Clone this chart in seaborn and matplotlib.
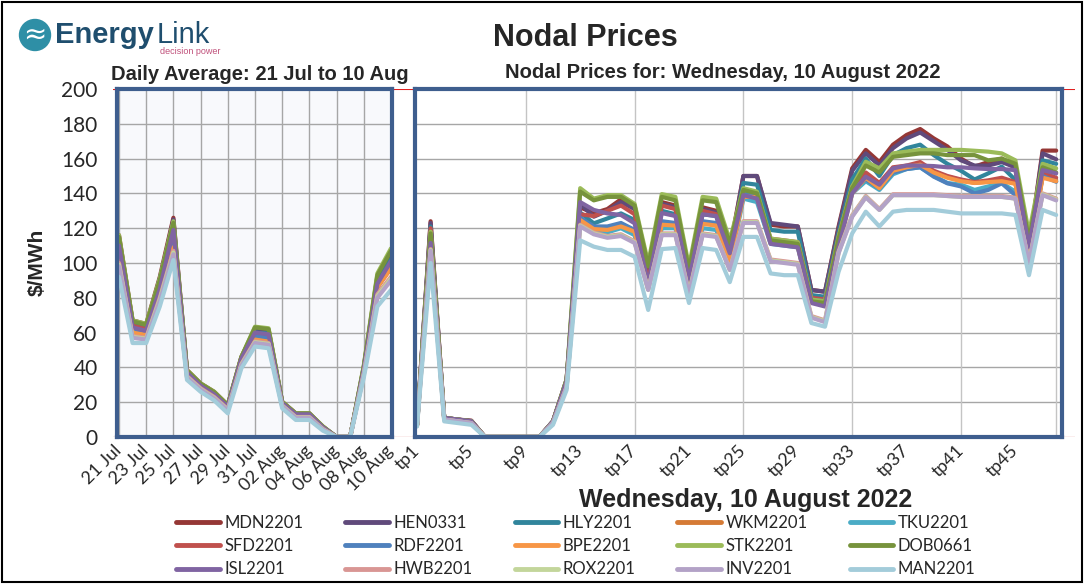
import matplotlib.pyplot as plt
import matplotlib.patches as mpatches
from matplotlib.lines import Line2D
import seaborn as sns
import pandas as pd

# ---- categories ----
days = ['21 Jul', '22 Jul', '23 Jul', '24 Jul', '25 Jul', '26 Jul', '27 Jul',
        '28 Jul', '29 Jul', '30 Jul', '31 Jul', '01 Aug', '02 Aug', '03 Aug',
        '04 Aug', '05 Aug', '06 Aug', '07 Aug', '08 Aug', '09 Aug', '10 Aug']
tps = ['tp%d' % n for n in range(1, 49)]

nodes = ['MDN2201', 'HEN0331', 'HLY2201', 'WKM2201', 'TKU2201',
         'SFD2201', 'RDF2201', 'BPE2201', 'STK2201', 'DOB0661',
         'ISL2201', 'HWB2201', 'ROX2201', 'INV2201', 'MAN2201']
colors = ['#953735', '#604A7B', '#31859C', '#D57A35', '#4BACC6',
          '#C0504D', '#4F81BD', '#F79646', '#9BBB59', '#77933C',
          '#8064A2', '#D99694', '#C3D69B', '#B3A2C7', '#A3CCDA']

# ---- daily averages, 21 Jul .. 10 Aug ($/MWh) ----
MDN_daily = [116, 67, 65, 92, 126, 38.5, 30.8, 26, 18.4, 46, 62, 61.5, 20.3, 13.6, 13.6, 6, 0, 0, 40, 92, 106]
HEN_daily = [114, 66, 64, 90, 125, 38, 30.5, 25.5, 18, 45.5, 61.5, 61, 20, 13.4, 13.4, 5.8, 0, 0, 39.5, 90, 104]
HLY_daily = [112, 65, 63, 91, 122, 37.5, 30, 25, 17.8, 45, 60, 59.5, 19.6, 13, 13, 5.6, 0, 0, 39, 89, 102]
WKM_daily = [106, 61, 59, 86, 112, 36.5, 29, 24, 17, 44, 57, 55.5, 19, 12.5, 12.5, 5.2, 0, 0, 38, 86, 97]
TKU_daily = [106, 61.5, 60, 87, 114, 36.5, 29, 24, 17, 44, 57.5, 56, 19, 12.5, 12.5, 5.2, 0, 0, 38, 86, 98]
SFD_daily = [110, 64, 62, 89, 120, 37, 29.5, 24.5, 17.5, 45, 59, 58, 19.4, 12.8, 12.8, 5.4, 0, 0, 38.5, 88, 100]
RDF_daily = [107, 62, 60.5, 88, 116, 36.8, 29.2, 24.2, 17.2, 44.5, 58, 57, 19.2, 12.6, 12.6, 5.3, 0, 0, 38, 87, 99]
BPE_daily = [105, 60, 58.6, 86, 109, 36, 28.5, 23.5, 16.6, 43.5, 56, 54.8, 18.8, 12.2, 12.2, 5, 0, 0, 37.5, 86, 97]
STK_daily = [116, 67, 65, 91, 124, 38.5, 30.8, 26, 18.4, 46, 63.4, 62.5, 20.3, 13.6, 13.6, 6, 0, 0, 41, 94, 108.4]
DOB_daily = [115, 66.5, 64.5, 90, 123, 38.2, 30.6, 25.8, 18.2, 46, 63, 62, 20.1, 13.5, 13.5, 5.9, 0, 0, 40.5, 93, 107]
ISL_daily = [110, 63, 61, 85, 119, 37, 29.5, 24.5, 17.5, 45, 60, 59, 19.5, 13, 13, 5.5, 0, 0, 39, 88, 101]
HWB_daily = [100, 58, 57, 80, 107, 35, 28, 23, 16, 42, 55, 54, 18.2, 11.5, 11.5, 4.6, 0, 0, 36.5, 82, 92]
ROX_daily = [99, 57.5, 56.5, 79, 106, 34.5, 27.5, 22.5, 15.6, 41.5, 54.5, 53.5, 18, 11.2, 11.2, 4.4, 0, 0, 36, 81, 91]
INV_daily = [98, 57, 56, 78, 105, 34.2, 27.2, 22.2, 15.3, 41, 54, 53, 17.7, 11, 11, 4.2, 0, 0, 35.5, 80, 90]
MAN_daily = [92, 54, 54, 75, 101.7, 32.8, 26, 21, 13.6, 39.5, 52, 51, 16.5, 9.8, 9.8, 3.6, 0, 0, 34, 75, 84.5]

# ---- trading period prices, Wednesday 10 August 2022 ($/MWh) ----
MDN_tp = [7, 124, 11, 10, 9.4, 0, 0, 0, 0, 0, 9, 33,
          132, 128.6, 131, 136.6, 133, 92, 135, 133, 95, 132, 130, 108,
          150, 150, 122, 121, 121, 84.5, 83.5, 121, 154.4, 165, 158, 168,
          173.6, 177, 171.6, 167, 160, 155.4, 158, 160, 154.4, 108.4, 164.6, 164.6]
HEN_tp = [7, 123, 11, 10, 9.2, 0, 0, 0, 0, 0, 9, 33,
          134, 126.6, 130, 135, 131, 90, 134, 132, 93, 131, 129, 106,
          150, 150, 123, 122, 121, 84.5, 83.5, 120, 153, 163, 156, 166,
          171.6, 175, 170, 165, 159, 156, 156, 158, 155, 108, 163, 159.6]
HLY_tp = [7, 121, 11, 10, 9, 0, 0, 0, 0, 0, 9, 32,
          129, 122.8, 125.6, 128.5, 124.7, 88, 130, 128, 92, 128, 127, 104,
          146, 145, 119, 118, 118, 81.6, 80.6, 117, 148, 160, 150, 162,
          166, 168, 162, 157, 153, 148, 151.5, 155.4, 147.7, 106, 159, 157]
WKM_tp = [7, 114, 11, 9.5, 8.5, 0, 0, 0, 0, 0, 8.5, 31,
          125, 120, 119, 121, 118, 86, 122, 122, 90, 123, 122, 101,
          139, 139, 112, 111, 110, 78, 77, 112, 141, 150, 144, 153.4,
          155, 157, 152.5, 149.6, 147.7, 146, 146.7, 147.7, 146, 105.6, 149.6, 147.7]
TKU_tp = [7, 115, 11, 9.5, 8.5, 0, 0, 0, 0, 0, 8.5, 31,
          124, 118, 117.6, 120, 116, 85, 120, 120, 88, 120, 119, 99,
          137, 135, 111, 110, 109, 78, 77, 111, 140, 147, 142, 151,
          154, 155, 150, 146, 145, 142, 144, 146, 141, 104, 151, 147]
SFD_tp = [7, 120, 11, 10, 9, 0, 0, 0, 0, 0, 9, 32,
          128, 127, 130, 133, 128, 89, 133, 131, 93, 130, 128, 105,
          141, 139, 114, 113, 112, 80, 79, 115, 144, 152, 146, 155,
          156, 158, 153, 150, 148, 146.5, 147.5, 149, 146.5, 106, 152, 149]
RDF_tp = [7, 116, 11, 9.5, 8.5, 0, 0, 0, 0, 0, 8.5, 31,
          126, 121, 121, 123, 119, 86.5, 124, 123, 90, 124, 123, 102,
          140, 139, 113, 112, 111, 79, 78, 113, 142, 148, 143, 152,
          154, 155, 149.6, 145.8, 144, 140, 142, 145.8, 139, 105, 150, 146.7]
BPE_tp = [7, 113, 11, 9.5, 8.5, 0, 0, 0, 0, 0, 8.5, 31,
          124.7, 119.5, 119, 121, 118, 86, 122, 121.5, 89, 122.5, 121.5, 101,
          138, 138, 111.5, 110.5, 109.5, 77.5, 76.5, 111, 140, 149, 143, 153,
          155, 156.5, 152, 149, 147, 146, 146.5, 147, 145.5, 105, 149, 147]
STK_tp = [7, 118, 11, 10, 9, 0, 0, 0, 0, 0, 9, 33,
          143, 137, 139, 139, 134, 100, 139.6, 138, 98, 138, 137, 113,
          143, 141, 114, 113, 112, 79, 78, 115, 144, 158.2, 154.4, 163,
          164, 165, 165, 165, 165, 164.5, 164, 163, 159, 117, 157, 154.4]
DOB_tp = [7, 117, 11, 10, 9, 0, 0, 0, 0, 0, 9, 32.5,
          141, 136, 138, 138, 133, 98, 138, 136, 96, 136, 135, 111,
          142, 140, 113, 112, 111, 78, 77, 114, 143, 156, 152, 161,
          162, 163, 163, 162, 162, 162, 159, 160, 157, 113, 155, 152]
ISL_tp = [7, 111.5, 11, 10, 9, 0, 0, 0, 0, 0, 9, 32,
          135, 130.5, 128.5, 127.6, 122.8, 88, 128.7, 127, 90, 128, 127, 105.6,
          139, 137, 111, 110, 109, 77, 75, 109, 140, 149.6, 145, 154.4,
          156, 156, 155.7, 155, 155, 154.4, 154, 154, 153.4, 109, 153.4, 151.5]
HWB_tp = [6.5, 108, 10, 9, 8, 0, 0, 0, 0, 0, 8, 29,
          122, 117.5, 115.5, 116.5, 112.5, 85, 117, 117, 83, 117, 116, 96.5,
          124, 124, 102, 101, 100, 69.5, 67, 106.5, 127.5, 138.5, 131, 139.5,
          139.5, 139.5, 139.5, 139, 138.5, 138.5, 138.5, 138.5, 137.5, 100.5, 140, 137]
ROX_tp = [6.5, 107.5, 10, 9, 8, 0, 0, 0, 0, 0, 8, 28.5,
          121.5, 117, 115, 116, 112, 84.5, 116.5, 116.5, 82.5, 116.5, 115.5, 96,
          123.5, 123.5, 101.5, 100.5, 99.5, 69, 66.5, 106, 127, 138, 130.5, 139,
          139, 139, 139, 138.5, 138, 138, 138, 138, 137, 100, 139.5, 136.5]
INV_tp = [6.5, 107, 10, 9, 8, 0, 0, 0, 0, 0, 8, 28.5,
          121, 116.5, 114.5, 115.5, 111.5, 84.5, 116, 116, 82, 116, 115, 96,
          123, 123, 101, 100, 99, 68.6, 66, 105.6, 126.6, 137.7, 130.5, 139,
          139, 139, 139, 138.5, 138, 138, 138, 138, 137, 100, 139, 136]
MAN_tp = [6, 100, 9, 8, 7, 0, 0, 0, 0, 0, 7, 27,
          113, 109.4, 107.5, 107.5, 103.6, 73, 108, 108.6, 77, 108.6, 107.5, 89,
          115, 115, 94, 93, 93, 65.5, 63.4, 95, 117, 129.5, 121, 129.5,
          130.5, 130.5, 130.5, 129.5, 128.5, 128.5, 128.5, 128.5, 127.6, 93, 130.5, 127.6]

daily_all = [MDN_daily, HEN_daily, HLY_daily, WKM_daily, TKU_daily,
             SFD_daily, RDF_daily, BPE_daily, STK_daily, DOB_daily,
             ISL_daily, HWB_daily, ROX_daily, INV_daily, MAN_daily]
tp_all = [MDN_tp, HEN_tp, HLY_tp, WKM_tp, TKU_tp,
          SFD_tp, RDF_tp, BPE_tp, STK_tp, DOB_tp,
          ISL_tp, HWB_tp, ROX_tp, INV_tp, MAN_tp]


def long_form(series):
    rows = []
    for node, vals in zip(nodes, series):
        for pos, v in enumerate(vals):
            rows.append({'node': node, 'pos': pos, 'price': v})
    return pd.DataFrame(rows)


df_daily = long_form(daily_all)
df_tp = long_form(tp_all)

sns.set_style('white')
plt.rcParams['font.family'] = ['Liberation Sans', 'DejaVu Sans']
tick_font = ['Lato', 'Liberation Sans']

W, H = 1085, 584
fig = plt.figure(figsize=(W / 100, H / 100), dpi=100)


def box(x0, y0, x1, y1):
    # pixel box (top-left origin) -> figure fraction rect
    return [x0 / W, 1 - y1 / H, (x1 - x0) / W, (y1 - y0) / H]


frame_col = '#3E5E8E'
grid_col = '#A6A6A6'

# background strip (red top line between panels)
ax_bg = fig.add_axes(box(113, 89, 1075, 437))
ax_bg.set_axis_off()
ax_bg.set_ylim(0, 200)
ax_bg.axhline(200, color='#E02020', lw=1.5)
ax_bg.axhline(0, color='#E8A8A8', lw=1)

axL = fig.add_axes(box(117, 89, 391.5, 437), facecolor='#F8F9FC')
axR = fig.add_axes(box(415.3, 89, 1062.3, 437), facecolor='white')

sns.lineplot(data=df_daily, x='pos', y='price', hue='node', hue_order=nodes,
             palette=colors, linewidth=3, legend=False, sort=False,
             estimator=None, ax=axL)
sns.lineplot(data=df_tp, x='pos', y='price', hue='node', hue_order=nodes,
             palette=colors, linewidth=3, legend=False, sort=False,
             estimator=None, ax=axR)

for ax in (axL, axR):
    ax.set_ylim(0, 200)
    ax.set_yticks(range(0, 201, 20))
    ax.set_xlabel('')
    ax.set_ylabel('')
    ax.set_axisbelow(True)
    ax.grid(axis='y', color=grid_col, lw=1)
    for s in ax.spines.values():
        s.set_color(frame_col)
        s.set_linewidth(3)
    ax.tick_params(axis='x', which='both', direction='out', length=4,
                   width=1, color='#808080', labelsize=13, pad=4)

# left panel: daily averages
axL.set_xlim(-0.147, 20.04)
axL.set_xticks(range(0, 21, 2))
axL.set_xticklabels(days[::2])
axL.set_xticks(range(21), minor=True)
axL.grid(axis='x', color=grid_col, lw=1)
axL.tick_params(axis='y', direction='out', length=4, width=1,
                color='#808080', labelsize=15, pad=10)

# right panel: trading periods
axR.set_xlim(-0.125, 47.45)
axR.set_xticks(range(0, 48, 4))
axR.set_xticklabels(tps[::4])
axR.set_xticks(range(48), minor=True)
for k in (8, 16, 24, 32, 40, 47):
    axR.axvline(k, color='#C4C4C4', lw=1, zorder=1)
axR.tick_params(axis='y', left=False, labelleft=False)

for ax in (axL, axR):
    plt.setp(ax.get_xticklabels(), rotation=45, ha='right', va='center',
             rotation_mode='anchor', family=tick_font)
plt.setp(axL.get_yticklabels(), family=tick_font)

# titles and labels
fig.text(585 / W, 1 - 38 / H, 'Nodal Prices', ha='center', va='center',
         fontsize=22, fontweight='bold')
fig.text(111 / W, 1 - 75 / H, 'Daily Average: 21 Jul to 10 Aug', ha='left',
         va='center', fontsize=14.5, fontweight='bold')
fig.text(723 / W, 1 - 73 / H, 'Nodal Prices for: Wednesday, 10 August 2022',
         ha='center', va='center', fontsize=14.5, fontweight='bold')
fig.text(746 / W, 1 - 500 / H, 'Wednesday, 10 August 2022', ha='center',
         va='center', fontsize=18, fontweight='bold')
fig.text(37 / W, 1 - 262 / H, r'\$/MWh', rotation=90, ha='center',
         va='center', fontsize=15, fontweight='bold')

# logo
fig.patches.append(mpatches.Ellipse((35 / W, 1 - 35 / H), 31 / W, 31 / H,
                                    transform=fig.transFigure,
                                    color='#2E8FA6'))
fig.text(35 / W, 1 - 35 / H, '\u2248', ha='center', va='center',
         color='white', fontsize=20, family='DejaVu Sans')
fig.text(55 / W, 1 - 35 / H, 'Energy', ha='left', va='center',
         fontsize=21, color='#1F4E6E', fontweight='semibold')
fig.text(157 / W, 1 - 35 / H, 'Link', ha='left', va='center',
         fontsize=21, color='#1F4E6E')
fig.text(160 / W, 1 - 52 / H, 'decision power', ha='left', va='center',
         fontsize=6.5, color='#C0507A')

# outer border
fig.patches.append(mpatches.Rectangle((0.002, 0.003), 0.995, 0.994,
                                      transform=fig.transFigure, fill=False,
                                      ec='black', lw=1.5))

# legend, row-major order in 3 rows x 5 columns
order = [r * 5 + c for c in range(5) for r in range(3)]
handles = [Line2D([], [], color=colors[i], lw=3.5) for i in order]
labels = [nodes[i] for i in order]
fig.legend(handles, labels, ncol=5, loc='center',
           bbox_to_anchor=(576 / W, 1 - 546 / H), frameon=False,
           prop={'family': tick_font, 'size': 12},
           handlelength=2.6, handletextpad=0.3, columnspacing=2.5,
           labelspacing=0.45)

fig.savefig('out.png', dpi=100)
